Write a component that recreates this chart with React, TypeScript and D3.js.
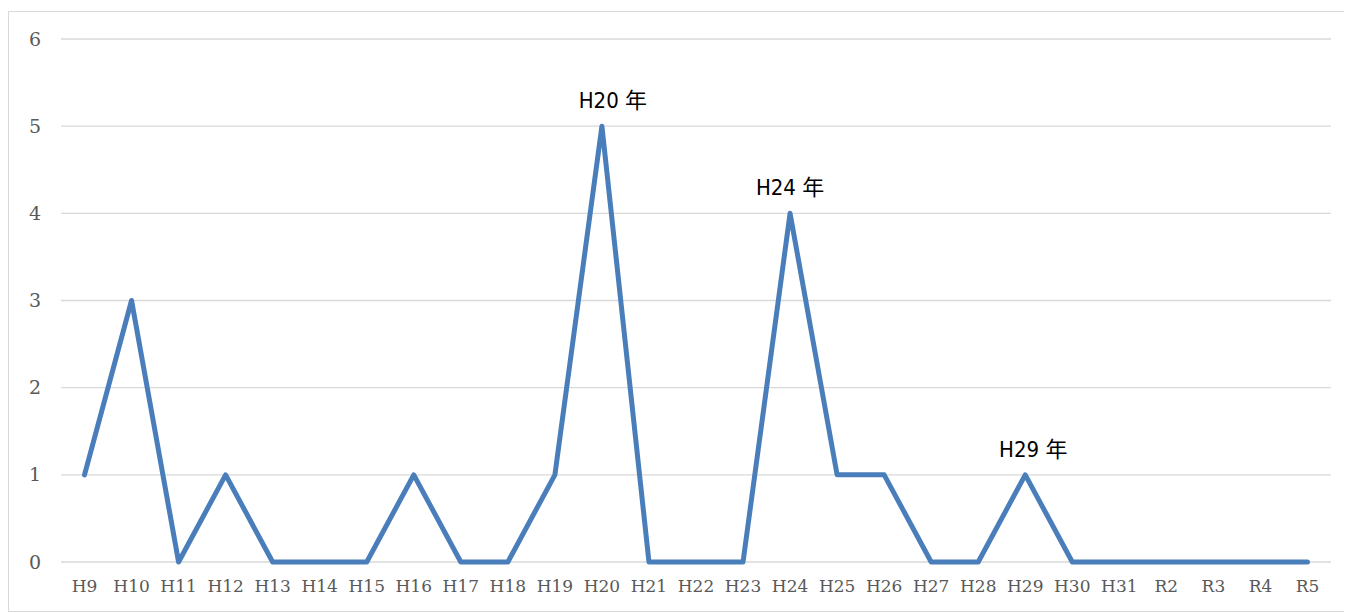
import * as d3 from 'd3';

const W = 1344;
const H = 604;
const categories = ['H9', 'H10', 'H11', 'H12', 'H13', 'H14', 'H15', 'H16', 'H17', 'H18', 'H19', 'H20', 'H21', 'H22', 'H23', 'H24', 'H25', 'H26', 'H27', 'H28', 'H29', 'H30', 'H31', 'R2', 'R3', 'R4', 'R5'];
const counts = [1, 3, 0, 1, 0, 0, 0, 1, 0, 0, 1, 5, 0, 0, 0, 4, 1, 1, 0, 0, 1, 0, 0, 0, 0, 0, 0];
const yTicks = [0, 1, 2, 3, 4, 5, 6];
const callouts = [
  { cat: 'H20', text: 'H20 年', dx: 11 },
  { cat: 'H24', text: 'H24 年', dx: 0 },
  { cat: 'H29', text: 'H29 年', dx: 8 },
];

const x = d3.scaleBand(categories, [53, 1323]);
const y = d3.scaleLinear([0, 6], [554, 31]);
const cx = (c: string) => (x(c) ?? 0) + x.bandwidth() / 2;

const serif = "'DejaVu Serif', serif";

export default function App() {
  const line = d3.line<number>()
    .x((_, i) => cx(categories[i]))
    .y(d => y(d));

  return (
    <svg width={W} height={H} style={{ display: 'block' }}>
      <rect x={0.5} y={3.5} width={W - 1} height={H - 4} fill="#fff" stroke="#d9d9d9" />
      {yTicks.map(t => (
        <g key={t}>
          <line x1={53} x2={1323} y1={y(t)} y2={y(t)} stroke="#d9d9d9" strokeWidth={1.3} />
          <text x={33} y={y(t)} dy="0.35em" textAnchor="end" fill="#595959"
            fontFamily={serif} fontSize={19}>{t}</text>
        </g>
      ))}
      {categories.map(c => (
        <text key={c} x={cx(c)} y={584} textAnchor="middle" fill="#595959"
          fontFamily={serif} fontSize={17}>{c}</text>
      ))}
      <path d={line(counts) ?? ''} fill="none" stroke="#4a7ebb" strokeWidth={5}
        strokeLinejoin="round" strokeLinecap="round" />
      {callouts.map(o => {
        const i = categories.indexOf(o.cat);
        return (
          <text key={o.cat} x={cx(o.cat) + o.dx} y={y(counts[i]) - 18} textAnchor="middle" fill="#000"
            fontFamily="'DejaVu Sans Condensed', 'Noto Sans CJK JP', sans-serif" fontSize={22}>{o.text}</text>
        );
      })}
    </svg>
  );
}
